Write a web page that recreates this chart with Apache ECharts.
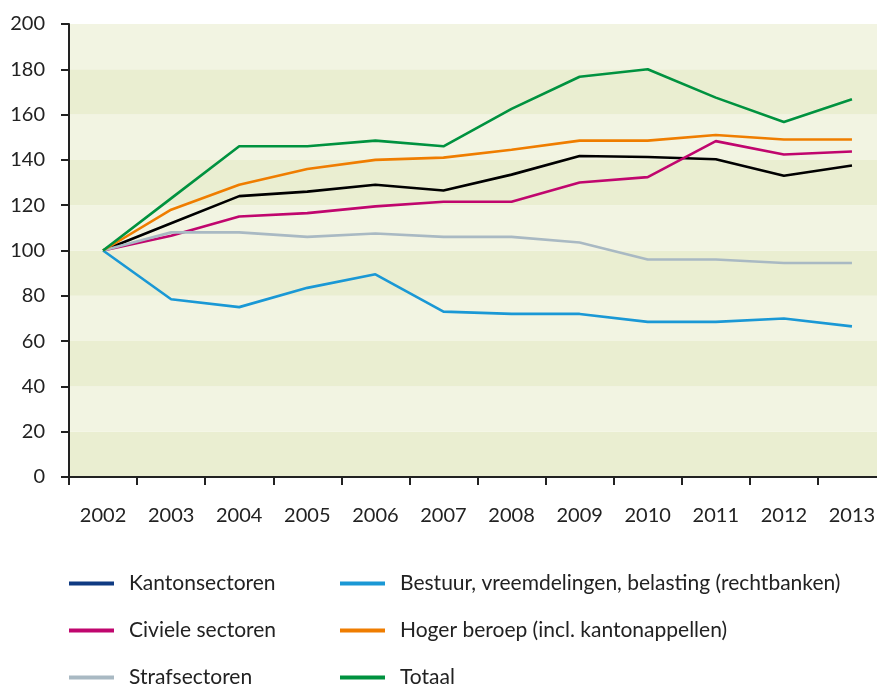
<!DOCTYPE html>
<html>
<head>
<meta charset="utf-8">
<script src="https://cdn.jsdelivr.net/npm/echarts@6/dist/echarts.min.js"></script>
<style>
  html, body { margin: 0; padding: 0; background: #fff; overflow: hidden; }
  #wrap { width: 877px; height: 684px; overflow: hidden; position: relative; }
  /* the plot area runs past the right edge of the window, as in the original */
  #chart { width: 886px; height: 684px; position: absolute; left: 0; top: 0; }
</style>
</head>
<body>
<div id="wrap"><div id="chart"></div></div>
<script>
// index 2002 = 100
const years = ['2002', '2003', '2004', '2005', '2006', '2007', '2008', '2009', '2010', '2011', '2012', '2013'];

const kanton = [100, 112, 124, 126, 129, 126.5, 133.5, 141.7, 141.3, 140.3, 133, 137.5];
const civiele = [100, 106.5, 115, 116.5, 119.5, 121.5, 121.5, 130, 132.4, 148.3, 142.4, 143.7];
const straf = [100, 108, 108, 106, 107.5, 106, 106, 103.5, 96, 96, 94.5, 94.5];
const bestuur = [100, 78.5, 75, 83.5, 89.5, 73, 72, 72, 68.5, 68.5, 70, 66.5];
const hoger = [100, 118, 129, 136, 140, 141, 144.5, 148.5, 148.5, 151, 149, 149];
const totaal = [100, 123, 146, 146, 148.5, 146, 162.5, 176.7, 180, 167.5, 156.7, 166.8];

const chart = echarts.init(document.getElementById('chart'), null, { renderer: 'canvas' });

const font = 'Lato, "Open Sans", sans-serif';
const ink = '#222';

const mkLine = (name, data, color) => ({
    name,
    type: 'line',
    data,
    symbol: 'none',
    lineStyle: { color, width: 2.6 },
    itemStyle: { color },
    emphasis: { disabled: true },
});

const legendBase = {
    orient: 'vertical',
    top: 573,
    height: 140,
    padding: 0,
    itemWidth: 45,
    itemHeight: 4,
    itemGap: 26,
    icon: 'rect',
    itemStyle: { borderWidth: 0 },
    textStyle: { color: ink, fontSize: 21, fontFamily: font, lineHeight: 20, padding: [0, 0, 0, 10] },
};

chart.setOption({
    animation: false,
    backgroundColor: '#fff',
    grid: { left: 69, right: 0, top: 24, bottom: 207, containLabel: false },
    xAxis: {
        type: 'category',
        data: years,
        boundaryGap: true,
        axisLine: { show: true, lineStyle: { color: ink, width: 2 } },
        axisTick: { show: true, length: 8, lineStyle: { color: ink, width: 2 } },
        axisLabel: { color: ink, fontSize: 20, fontFamily: font, margin: 29 },
        splitLine: { show: false },
    },
    yAxis: {
        type: 'value',
        min: 0,
        max: 200,
        interval: 20,
        axisLine: { show: true, lineStyle: { color: ink, width: 2 } },
        axisTick: { show: true, length: 8, lineStyle: { color: ink, width: 2 } },
        axisLabel: { color: ink, fontSize: 20, fontFamily: font, margin: 24 },
        splitLine: { show: false },
        splitArea: { show: true, areaStyle: { color: ['#eaeed1', '#f2f4e2'] } },
    },
    legend: [
        Object.assign({}, legendBase, {
            left: 69,
            data: [
                { name: 'Kantonsectoren', itemStyle: { color: '#0f3a82' } },
                'Civiele sectoren',
                'Strafsectoren',
            ],
        }),
        Object.assign({}, legendBase, {
            left: 340,
            data: [
                'Bestuur, vreemdelingen, belasting (rechtbanken)',
                'Hoger beroep (incl. kantonappellen)',
                'Totaal',
            ],
        }),
    ],
    series: [
        mkLine('Kantonsectoren', kanton, '#000000'),
        mkLine('Civiele sectoren', civiele, '#c0066e'),
        mkLine('Strafsectoren', straf, '#a9b9c3'),
        mkLine('Bestuur, vreemdelingen, belasting (rechtbanken)', bestuur, '#1a98d5'),
        mkLine('Hoger beroep (incl. kantonappellen)', hoger, '#ef7d00'),
        mkLine('Totaal', totaal, '#00923f'),
    ],
});
</script>
</body>
</html>
